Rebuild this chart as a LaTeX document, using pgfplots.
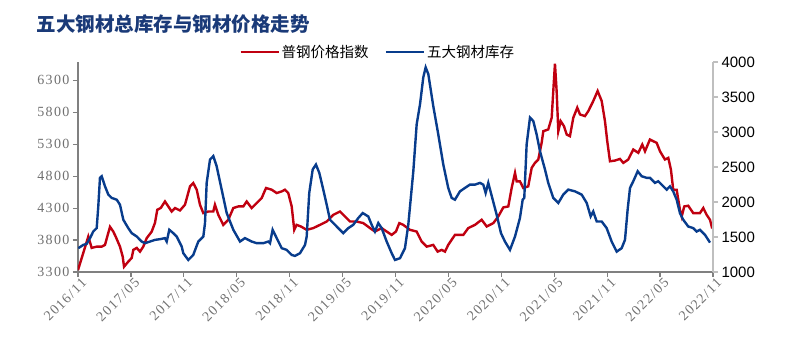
\documentclass[border=0pt]{standalone}
\usepackage{pgfplots}
\pgfplotsset{compat=1.18}
\usepackage{pgfplotstable}
\usepackage{fontspec}
\setmainfont{Liberation Serif}
\newfontfamily\cjk{Noto Sans CJK SC}
\newfontfamily\arial{Liberation Sans}
\newfontfamily\tickfont[LetterSpace=10]{Liberation Serif}
\definecolor{cred}{HTML}{C00010}
\definecolor{cblue}{HTML}{083C8C}
\definecolor{ctitle}{HTML}{1A3A78}
\definecolor{axgray}{HTML}{808080}
\definecolor{axlight}{HTML}{BFBFBF}
\definecolor{lblgray}{HTML}{707070}

\pgfplotstableread{
m v
0 3330
1.17 3855
1.55 3677
2.12 3697
2.69 3697
3.06 3724
3.32 3855
3.63 4007
4.00 3933
4.27 3855
4.76 3697
5.07 3540
5.22 3383
5.70 3462
6.09 3520
6.27 3646
6.66 3677
7.03 3619
7.40 3697
7.79 3829
8.36 3933
8.73 4070
8.99 4274
9.38 4301
9.86 4404
10.24 4326
10.62 4247
11.00 4301
11.56 4263
12.13 4353
12.70 4640
13.07 4693
13.46 4588
13.83 4353
14.21 4222
14.77 4247
15.34 4247
15.53 4353
15.91 4195
16.47 4038
17.04 4117
17.61 4301
18.17 4326
18.74 4326
19.13 4404
19.69 4301
20.26 4379
20.83 4458
21.32 4615
21.96 4588
22.53 4536
23.10 4562
23.47 4588
23.84 4536
24.23 4326
24.52 3960
24.78 4038
25.28 4012
25.93 3960
26.68 3987
27.44 4038
28.20 4090
28.95 4195
29.71 4247
30.27 4169
30.84 4090
31.60 4090
32.35 4065
33.11 3987
33.67 3933
34.43 3987
35.00 3933
35.57 3881
36.05 3933
36.43 4065
36.88 4038
37.64 3960
38.40 3933
38.97 3776
39.54 3697
40.28 3724
40.78 3619
41.24 3646
41.61 3619
41.98 3724
42.74 3881
43.69 3881
44.25 3987
45.01 4038
45.77 4117
46.34 4012
47.09 4065
47.65 4169
48.22 4310
48.79 4326
49.17 4615
49.55 4851
49.74 4719
50.11 4719
50.49 4615
51.05 4640
51.44 4929
51.81 5008
52.19 5060
52.57 5322
52.76 5504
53.32 5531
53.71 5715
53.89 6133
54.08 6560
54.27 6133
54.46 5504
54.73 5661
55.10 5583
55.41 5452
55.78 5426
56.16 5715
56.61 5872
56.92 5766
57.48 5740
57.86 5818
58.42 5975
58.92 6133
59.38 5975
59.75 5661
60.01 5347
60.32 5033
60.88 5044
61.45 5070
61.83 5008
62.39 5060
62.96 5217
63.53 5165
63.98 5295
64.29 5190
64.85 5374
65.23 5347
65.61 5322
65.99 5190
66.55 5060
66.93 5086
67.23 4902
67.49 4588
67.88 4588
68.25 4274
68.45 4169
68.74 4326
69.19 4337
69.76 4222
70.52 4222
70.90 4301
71.28 4195
71.66 4117
71.85 4012
72.00 4038
}\pricetable

\pgfplotstableread{
m v
0.03 1340
0.60 1387
0.99 1402
1.36 1484
1.73 1578
2.12 1627
2.30 1937
2.49 2345
2.69 2368
3.06 2224
3.44 2105
3.82 2058
4.39 2033
4.76 1961
5.14 1746
5.70 1627
6.09 1555
6.66 1507
7.22 1435
7.60 1412
8.16 1435
8.73 1459
9.30 1469
9.86 1484
10.06 1435
10.35 1603
10.80 1555
11.19 1507
11.76 1363
11.94 1268
12.51 1172
13.07 1244
13.64 1435
14.21 1507
14.40 1699
14.59 2273
14.97 2607
15.34 2655
15.72 2511
16.29 2177
16.86 1842
17.61 1603
18.37 1435
18.93 1484
19.69 1435
20.26 1412
21.01 1412
21.58 1435
21.77 1412
22.07 1603
22.53 1484
23.10 1340
23.66 1316
24.23 1244
24.60 1230
25.17 1268
25.74 1387
25.93 1507
26.22 2129
26.61 2464
26.98 2535
27.36 2416
27.81 2177
28.20 1961
28.57 1746
28.95 1699
29.51 1627
30.08 1555
30.65 1627
31.21 1674
31.78 1771
32.28 1842
32.91 1794
33.30 1674
33.67 1578
34.05 1699
34.43 1627
35.00 1435
35.57 1268
35.94 1172
36.51 1197
37.07 1340
37.45 1674
38.02 2439
38.40 3109
38.78 3396
39.15 3780
39.42 3923
39.72 3827
40.28 3372
40.85 2966
41.42 2535
41.98 2201
42.37 2058
42.74 2033
43.31 2152
43.88 2201
44.44 2248
45.01 2248
45.58 2273
45.95 2248
46.22 2129
46.52 2273
46.97 2058
47.47 1818
47.96 1555
48.41 1435
48.98 1316
49.55 1507
50.11 1771
50.42 2033
50.60 2058
50.87 2822
51.25 3206
51.62 3157
52.00 2966
52.38 2726
52.95 2464
53.32 2273
53.89 2058
54.46 1986
55.02 2105
55.59 2177
56.35 2152
57.11 2105
57.68 1986
58.13 1794
58.42 1865
58.81 1722
59.38 1722
59.94 1627
60.51 1435
61.08 1291
61.64 1340
62.02 1459
62.32 1890
62.59 2201
62.96 2296
63.46 2439
63.91 2368
64.48 2345
64.85 2345
65.42 2273
65.79 2296
66.36 2224
66.75 2177
67.12 2224
67.49 2152
67.88 2033
68.25 1842
68.63 1746
69.19 1650
69.76 1627
70.14 1578
70.52 1603
71.09 1531
71.66 1420
}\stocktable

\begin{document}
\begin{tikzpicture}
\path[use as bounding box] (-78pt,-80pt) rectangle (709pt,272pt);
\begin{axis}[
  scale only axis, width=635pt, height=210pt,
  at={(0pt,0pt)}, anchor=south west,
  xmin=0, xmax=72, ymin=3300, ymax=6587,
  axis x line*=bottom, axis y line*=left,
  x axis line style={draw=axgray, line width=1.6pt},
  y axis line style={draw=axgray, line width=1.6pt},
  tick align=outside, major tick length=5pt,
  tick style={draw=axgray, line width=1.2pt},
  xtick={0,6,...,72},
  xticklabels={2016/11,2017/05,2017/11,2018/05,2018/11,2019/05,2019/11,2020/05,2020/11,2021/05,2021/11,2022/05,2022/11},
  xticklabel style={rotate=45, anchor=north east, font=\tickfont\fontsize{14}{14}\selectfont, text=lblgray, inner sep=1pt, xshift=3pt, yshift=-1pt},
  ytick={3300,3800,...,6300},
  yticklabel style={font=\tickfont\fontsize{14}{14}\selectfont, text=lblgray},
  /pgf/number format/1000 sep={},
  /pgf/number format/assume math mode=true,
  legend style={at={(0.472,1)}, anchor=south, yshift=-1pt, draw=none, fill=none,
    legend columns=2, font=\cjk\fontsize{14.5}{14.5}\selectfont,
    /tikz/every even column/.append style={column sep=14pt}},
  legend image code/.code={\draw[#1] (0pt,0pt) -- (38pt,0pt);},
]
\addplot[cred, line width=2.4pt] table[x=m, y=v] {\pricetable};
\addlegendentry{普钢价格指数}
\addlegendimage{cblue, line width=2.4pt}
\addlegendentry{五大钢材库存}
\end{axis}
\begin{axis}[
  scale only axis, width=635pt, height=210pt,
  at={(0pt,0pt)}, anchor=south west,
  xmin=0, xmax=72, ymin=1000, ymax=4000,
  axis x line=none, axis y line*=right,
  y axis line style={draw=axlight, line width=1.4pt},
  tick align=outside, major tick length=5pt,
  tick style={draw=axlight, line width=1.2pt},
  ytick={1000,1500,...,4000},
  yticklabel style={font=\arial\fontsize{15}{15}\selectfont, text=black},
  /pgf/number format/1000 sep={},
  /pgf/number format/assume math mode=true,
]
\addplot[cblue, line width=2.4pt] table[x=m, y=v] {\stocktable};
\end{axis}
\node[anchor=west, text=ctitle, font=\cjk\bfseries\fontsize{19.5}{19.5}\selectfont] at (-45pt,248pt) {五大钢材总库存与钢材价格走势};
\end{tikzpicture}
\end{document}
